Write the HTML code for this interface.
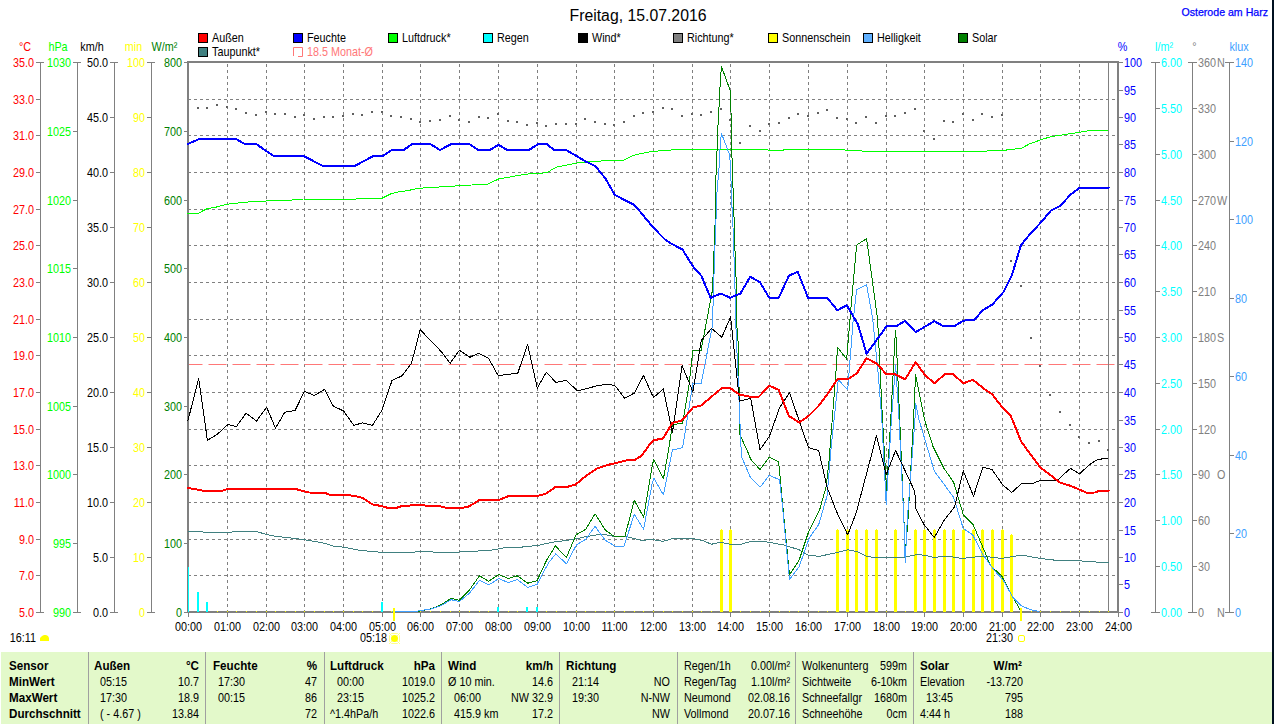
<!DOCTYPE html><html><head><meta charset="utf-8"><title>Wetter</title><style>html,body{margin:0;padding:0;background:#fff;overflow:hidden}svg{display:block;font-family:"Liberation Sans",sans-serif}</style></head><body>
<svg width="1274" height="724" viewBox="0 0 1274 724">
<rect x="0" y="0" width="1274" height="724" fill="#fff"/>
<text transform="translate(638.00,21.00) scale(1.0,1)" font-size="15.8" fill="#000" text-anchor="middle">Freitag, 15.07.2016</text>
<text transform="translate(1268.00,16.00) scale(1.0,1)" font-size="10.6" fill="#0000ff" text-anchor="end" stroke="#0000ff" stroke-width="0.25">Osterode am Harz</text>
<rect x="198.5" y="33.5" width="9" height="9" fill="#ff0000" stroke="#000" stroke-width="1"/>
<text transform="translate(212.00,42.00) scale(0.9,1)" font-size="12" fill="#000">Außen</text>
<rect x="293.5" y="33.5" width="9" height="9" fill="#0000ff" stroke="#000" stroke-width="1"/>
<text transform="translate(307.00,42.00) scale(0.9,1)" font-size="12" fill="#000">Feuchte</text>
<rect x="388.5" y="33.5" width="9" height="9" fill="#00ff00" stroke="#000" stroke-width="1"/>
<text transform="translate(402.00,42.00) scale(0.9,1)" font-size="12" fill="#000">Luftdruck*</text>
<rect x="483.5" y="33.5" width="9" height="9" fill="#00ffff" stroke="#000" stroke-width="1"/>
<text transform="translate(497.00,42.00) scale(0.9,1)" font-size="12" fill="#000">Regen</text>
<rect x="578.5" y="33.5" width="9" height="9" fill="#000000" stroke="#000" stroke-width="1"/>
<text transform="translate(592.00,42.00) scale(0.9,1)" font-size="12" fill="#000">Wind*</text>
<rect x="673.5" y="33.5" width="9" height="9" fill="#808080" stroke="#000" stroke-width="1"/>
<text transform="translate(687.00,42.00) scale(0.9,1)" font-size="12" fill="#000">Richtung*</text>
<rect x="768.5" y="33.5" width="9" height="9" fill="#ffff00" stroke="#000" stroke-width="1"/>
<text transform="translate(782.00,42.00) scale(0.9,1)" font-size="12" fill="#000">Sonnenschein</text>
<rect x="863.5" y="33.5" width="9" height="9" fill="#60b0ff" stroke="#000" stroke-width="1"/>
<text transform="translate(877.00,42.00) scale(0.9,1)" font-size="12" fill="#000">Helligkeit</text>
<rect x="958.5" y="33.5" width="9" height="9" fill="#008000" stroke="#000" stroke-width="1"/>
<text transform="translate(972.00,42.00) scale(0.9,1)" font-size="12" fill="#000">Solar</text>
<rect x="198.5" y="47.5" width="9" height="9" fill="#408080" stroke="#000" stroke-width="1"/>
<text transform="translate(212.00,56.00) scale(0.9,1)" font-size="12" fill="#000">Taupunkt*</text>
<path d="M293.5,56 V47.5 H302.5 V56.5 H298" fill="none" stroke="#ff7878" stroke-width="1"/>
<text transform="translate(307.00,56.00) scale(0.9,1)" font-size="12" fill="#ff7878">18.5 Monat-Ø</text>
<text transform="translate(25.00,51.00) scale(0.9,1)" font-size="12" fill="#ff0000" text-anchor="middle">°C</text>
<text transform="translate(58.00,51.00) scale(0.9,1)" font-size="12" fill="#00ff00" text-anchor="middle">hPa</text>
<text transform="translate(92.00,51.00) scale(0.9,1)" font-size="12" fill="#000" text-anchor="middle">km/h</text>
<text transform="translate(133.50,51.00) scale(0.9,1)" font-size="12" fill="#ffff00" text-anchor="middle">min</text>
<text transform="translate(164.50,51.00) scale(0.9,1)" font-size="12" fill="#008000" text-anchor="middle">W/m²</text>
<text transform="translate(1122.50,51.00) scale(0.9,1)" font-size="12" fill="#0000ff" text-anchor="middle">%</text>
<text transform="translate(1164.00,51.00) scale(0.9,1)" font-size="12" fill="#00ffff" text-anchor="middle">l/m²</text>
<text transform="translate(1194.50,51.00) scale(0.9,1)" font-size="12" fill="#808080" text-anchor="middle">°</text>
<text transform="translate(1239.00,51.00) scale(0.9,1)" font-size="12" fill="#40a0ff" text-anchor="middle">klux</text>
<rect x="40" y="62" width="1" height="551" fill="#808080"/>
<rect x="36" y="62" width="8" height="1" fill="#808080"/>
<text transform="translate(34.00,67.00) scale(0.9,1)" font-size="12" fill="#ff0000" text-anchor="end">35.0</text>
<rect x="36" y="99" width="5" height="1" fill="#808080"/>
<text transform="translate(34.00,104.00) scale(0.9,1)" font-size="12" fill="#ff0000" text-anchor="end">33.0</text>
<rect x="36" y="135" width="5" height="1" fill="#808080"/>
<text transform="translate(34.00,140.00) scale(0.9,1)" font-size="12" fill="#ff0000" text-anchor="end">31.0</text>
<rect x="36" y="172" width="5" height="1" fill="#808080"/>
<text transform="translate(34.00,177.00) scale(0.9,1)" font-size="12" fill="#ff0000" text-anchor="end">29.0</text>
<rect x="36" y="209" width="5" height="1" fill="#808080"/>
<text transform="translate(34.00,214.00) scale(0.9,1)" font-size="12" fill="#ff0000" text-anchor="end">27.0</text>
<rect x="36" y="245" width="5" height="1" fill="#808080"/>
<text transform="translate(34.00,250.00) scale(0.9,1)" font-size="12" fill="#ff0000" text-anchor="end">25.0</text>
<rect x="36" y="282" width="5" height="1" fill="#808080"/>
<text transform="translate(34.00,287.00) scale(0.9,1)" font-size="12" fill="#ff0000" text-anchor="end">23.0</text>
<rect x="36" y="319" width="5" height="1" fill="#808080"/>
<text transform="translate(34.00,324.00) scale(0.9,1)" font-size="12" fill="#ff0000" text-anchor="end">21.0</text>
<rect x="36" y="355" width="5" height="1" fill="#808080"/>
<text transform="translate(34.00,360.00) scale(0.9,1)" font-size="12" fill="#ff0000" text-anchor="end">19.0</text>
<rect x="36" y="392" width="5" height="1" fill="#808080"/>
<text transform="translate(34.00,397.00) scale(0.9,1)" font-size="12" fill="#ff0000" text-anchor="end">17.0</text>
<rect x="36" y="429" width="5" height="1" fill="#808080"/>
<text transform="translate(34.00,434.00) scale(0.9,1)" font-size="12" fill="#ff0000" text-anchor="end">15.0</text>
<rect x="36" y="465" width="5" height="1" fill="#808080"/>
<text transform="translate(34.00,470.00) scale(0.9,1)" font-size="12" fill="#ff0000" text-anchor="end">13.0</text>
<rect x="36" y="502" width="5" height="1" fill="#808080"/>
<text transform="translate(34.00,507.00) scale(0.9,1)" font-size="12" fill="#ff0000" text-anchor="end">11.0</text>
<rect x="36" y="539" width="5" height="1" fill="#808080"/>
<text transform="translate(34.00,544.00) scale(0.9,1)" font-size="12" fill="#ff0000" text-anchor="end">9.0</text>
<rect x="36" y="575" width="5" height="1" fill="#808080"/>
<text transform="translate(34.00,580.00) scale(0.9,1)" font-size="12" fill="#ff0000" text-anchor="end">7.0</text>
<rect x="36" y="612" width="8" height="1" fill="#808080"/>
<text transform="translate(34.00,617.00) scale(0.9,1)" font-size="12" fill="#ff0000" text-anchor="end">5.0</text>
<rect x="77" y="62" width="1" height="551" fill="#808080"/>
<rect x="73" y="62" width="8" height="1" fill="#808080"/>
<text transform="translate(71.00,67.00) scale(0.9,1)" font-size="12" fill="#00ff00" text-anchor="end">1030</text>
<rect x="73" y="131" width="5" height="1" fill="#808080"/>
<text transform="translate(71.00,136.00) scale(0.9,1)" font-size="12" fill="#00ff00" text-anchor="end">1025</text>
<rect x="73" y="200" width="5" height="1" fill="#808080"/>
<text transform="translate(71.00,205.00) scale(0.9,1)" font-size="12" fill="#00ff00" text-anchor="end">1020</text>
<rect x="73" y="268" width="5" height="1" fill="#808080"/>
<text transform="translate(71.00,273.00) scale(0.9,1)" font-size="12" fill="#00ff00" text-anchor="end">1015</text>
<rect x="73" y="337" width="5" height="1" fill="#808080"/>
<text transform="translate(71.00,342.00) scale(0.9,1)" font-size="12" fill="#00ff00" text-anchor="end">1010</text>
<rect x="73" y="406" width="5" height="1" fill="#808080"/>
<text transform="translate(71.00,411.00) scale(0.9,1)" font-size="12" fill="#00ff00" text-anchor="end">1005</text>
<rect x="73" y="474" width="5" height="1" fill="#808080"/>
<text transform="translate(71.00,479.00) scale(0.9,1)" font-size="12" fill="#00ff00" text-anchor="end">1000</text>
<rect x="73" y="543" width="5" height="1" fill="#808080"/>
<text transform="translate(71.00,548.00) scale(0.9,1)" font-size="12" fill="#00ff00" text-anchor="end">995</text>
<rect x="73" y="612" width="8" height="1" fill="#808080"/>
<text transform="translate(71.00,617.00) scale(0.9,1)" font-size="12" fill="#00ff00" text-anchor="end">990</text>
<rect x="114" y="62" width="1" height="551" fill="#808080"/>
<rect x="110" y="62" width="8" height="1" fill="#808080"/>
<text transform="translate(108.00,67.00) scale(0.9,1)" font-size="12" fill="#000" text-anchor="end">50.0</text>
<rect x="110" y="117" width="5" height="1" fill="#808080"/>
<text transform="translate(108.00,122.00) scale(0.9,1)" font-size="12" fill="#000" text-anchor="end">45.0</text>
<rect x="110" y="172" width="5" height="1" fill="#808080"/>
<text transform="translate(108.00,177.00) scale(0.9,1)" font-size="12" fill="#000" text-anchor="end">40.0</text>
<rect x="110" y="227" width="5" height="1" fill="#808080"/>
<text transform="translate(108.00,232.00) scale(0.9,1)" font-size="12" fill="#000" text-anchor="end">35.0</text>
<rect x="110" y="282" width="5" height="1" fill="#808080"/>
<text transform="translate(108.00,287.00) scale(0.9,1)" font-size="12" fill="#000" text-anchor="end">30.0</text>
<rect x="110" y="337" width="5" height="1" fill="#808080"/>
<text transform="translate(108.00,342.00) scale(0.9,1)" font-size="12" fill="#000" text-anchor="end">25.0</text>
<rect x="110" y="392" width="5" height="1" fill="#808080"/>
<text transform="translate(108.00,397.00) scale(0.9,1)" font-size="12" fill="#000" text-anchor="end">20.0</text>
<rect x="110" y="447" width="5" height="1" fill="#808080"/>
<text transform="translate(108.00,452.00) scale(0.9,1)" font-size="12" fill="#000" text-anchor="end">15.0</text>
<rect x="110" y="502" width="5" height="1" fill="#808080"/>
<text transform="translate(108.00,507.00) scale(0.9,1)" font-size="12" fill="#000" text-anchor="end">10.0</text>
<rect x="110" y="557" width="5" height="1" fill="#808080"/>
<text transform="translate(108.00,562.00) scale(0.9,1)" font-size="12" fill="#000" text-anchor="end">5.0</text>
<rect x="110" y="612" width="8" height="1" fill="#808080"/>
<text transform="translate(108.00,617.00) scale(0.9,1)" font-size="12" fill="#000" text-anchor="end">0.0</text>
<rect x="151" y="62" width="1" height="551" fill="#808080"/>
<rect x="147" y="62" width="8" height="1" fill="#808080"/>
<text transform="translate(145.00,67.00) scale(0.9,1)" font-size="12" fill="#ffff00" text-anchor="end">100</text>
<rect x="147" y="117" width="5" height="1" fill="#808080"/>
<text transform="translate(145.00,122.00) scale(0.9,1)" font-size="12" fill="#ffff00" text-anchor="end">90</text>
<rect x="147" y="172" width="5" height="1" fill="#808080"/>
<text transform="translate(145.00,177.00) scale(0.9,1)" font-size="12" fill="#ffff00" text-anchor="end">80</text>
<rect x="147" y="227" width="5" height="1" fill="#808080"/>
<text transform="translate(145.00,232.00) scale(0.9,1)" font-size="12" fill="#ffff00" text-anchor="end">70</text>
<rect x="147" y="282" width="5" height="1" fill="#808080"/>
<text transform="translate(145.00,287.00) scale(0.9,1)" font-size="12" fill="#ffff00" text-anchor="end">60</text>
<rect x="147" y="337" width="5" height="1" fill="#808080"/>
<text transform="translate(145.00,342.00) scale(0.9,1)" font-size="12" fill="#ffff00" text-anchor="end">50</text>
<rect x="147" y="392" width="5" height="1" fill="#808080"/>
<text transform="translate(145.00,397.00) scale(0.9,1)" font-size="12" fill="#ffff00" text-anchor="end">40</text>
<rect x="147" y="447" width="5" height="1" fill="#808080"/>
<text transform="translate(145.00,452.00) scale(0.9,1)" font-size="12" fill="#ffff00" text-anchor="end">30</text>
<rect x="147" y="502" width="5" height="1" fill="#808080"/>
<text transform="translate(145.00,507.00) scale(0.9,1)" font-size="12" fill="#ffff00" text-anchor="end">20</text>
<rect x="147" y="557" width="5" height="1" fill="#808080"/>
<text transform="translate(145.00,562.00) scale(0.9,1)" font-size="12" fill="#ffff00" text-anchor="end">10</text>
<rect x="147" y="612" width="8" height="1" fill="#808080"/>
<text transform="translate(145.00,617.00) scale(0.9,1)" font-size="12" fill="#ffff00" text-anchor="end">0</text>
<rect x="184" y="62" width="5" height="1" fill="#808080"/>
<text transform="translate(182.00,67.00) scale(0.9,1)" font-size="12" fill="#008000" text-anchor="end">800</text>
<rect x="184" y="131" width="5" height="1" fill="#808080"/>
<text transform="translate(182.00,136.00) scale(0.9,1)" font-size="12" fill="#008000" text-anchor="end">700</text>
<rect x="184" y="200" width="5" height="1" fill="#808080"/>
<text transform="translate(182.00,205.00) scale(0.9,1)" font-size="12" fill="#008000" text-anchor="end">600</text>
<rect x="184" y="268" width="5" height="1" fill="#808080"/>
<text transform="translate(182.00,273.00) scale(0.9,1)" font-size="12" fill="#008000" text-anchor="end">500</text>
<rect x="184" y="337" width="5" height="1" fill="#808080"/>
<text transform="translate(182.00,342.00) scale(0.9,1)" font-size="12" fill="#008000" text-anchor="end">400</text>
<rect x="184" y="406" width="5" height="1" fill="#808080"/>
<text transform="translate(182.00,411.00) scale(0.9,1)" font-size="12" fill="#008000" text-anchor="end">300</text>
<rect x="184" y="474" width="5" height="1" fill="#808080"/>
<text transform="translate(182.00,479.00) scale(0.9,1)" font-size="12" fill="#008000" text-anchor="end">200</text>
<rect x="184" y="543" width="5" height="1" fill="#808080"/>
<text transform="translate(182.00,548.00) scale(0.9,1)" font-size="12" fill="#008000" text-anchor="end">100</text>
<rect x="184" y="612" width="5" height="1" fill="#808080"/>
<text transform="translate(182.00,617.00) scale(0.9,1)" font-size="12" fill="#008000" text-anchor="end">0</text>
<line x1="227.5" y1="64" x2="227.5" y2="611" stroke="#808080" stroke-width="1" stroke-dasharray="3 3"/>
<line x1="266.5" y1="64" x2="266.5" y2="611" stroke="#808080" stroke-width="1" stroke-dasharray="3 3"/>
<line x1="304.5" y1="64" x2="304.5" y2="611" stroke="#808080" stroke-width="1" stroke-dasharray="3 3"/>
<line x1="343.5" y1="64" x2="343.5" y2="611" stroke="#808080" stroke-width="1" stroke-dasharray="3 3"/>
<line x1="382.5" y1="64" x2="382.5" y2="611" stroke="#808080" stroke-width="1" stroke-dasharray="3 3"/>
<line x1="420.5" y1="64" x2="420.5" y2="611" stroke="#808080" stroke-width="1" stroke-dasharray="3 3"/>
<line x1="459.5" y1="64" x2="459.5" y2="611" stroke="#808080" stroke-width="1" stroke-dasharray="3 3"/>
<line x1="498.5" y1="64" x2="498.5" y2="611" stroke="#808080" stroke-width="1" stroke-dasharray="3 3"/>
<line x1="537.5" y1="64" x2="537.5" y2="611" stroke="#808080" stroke-width="1" stroke-dasharray="3 3"/>
<line x1="576.5" y1="64" x2="576.5" y2="611" stroke="#808080" stroke-width="1" stroke-dasharray="3 3"/>
<line x1="614.5" y1="64" x2="614.5" y2="611" stroke="#808080" stroke-width="1" stroke-dasharray="3 3"/>
<line x1="653.5" y1="64" x2="653.5" y2="611" stroke="#808080" stroke-width="1" stroke-dasharray="3 3"/>
<line x1="692.5" y1="64" x2="692.5" y2="611" stroke="#808080" stroke-width="1" stroke-dasharray="3 3"/>
<line x1="730.5" y1="64" x2="730.5" y2="611" stroke="#808080" stroke-width="1" stroke-dasharray="3 3"/>
<line x1="769.5" y1="64" x2="769.5" y2="611" stroke="#808080" stroke-width="1" stroke-dasharray="3 3"/>
<line x1="808.5" y1="64" x2="808.5" y2="611" stroke="#808080" stroke-width="1" stroke-dasharray="3 3"/>
<line x1="847.5" y1="64" x2="847.5" y2="611" stroke="#808080" stroke-width="1" stroke-dasharray="3 3"/>
<line x1="886.5" y1="64" x2="886.5" y2="611" stroke="#808080" stroke-width="1" stroke-dasharray="3 3"/>
<line x1="924.5" y1="64" x2="924.5" y2="611" stroke="#808080" stroke-width="1" stroke-dasharray="3 3"/>
<line x1="963.5" y1="64" x2="963.5" y2="611" stroke="#808080" stroke-width="1" stroke-dasharray="3 3"/>
<line x1="1002.5" y1="64" x2="1002.5" y2="611" stroke="#808080" stroke-width="1" stroke-dasharray="3 3"/>
<line x1="1040.5" y1="64" x2="1040.5" y2="611" stroke="#808080" stroke-width="1" stroke-dasharray="3 3"/>
<line x1="1079.5" y1="64" x2="1079.5" y2="611" stroke="#808080" stroke-width="1" stroke-dasharray="3 3"/>
<line x1="189" y1="99.5" x2="1117" y2="99.5" stroke="#808080" stroke-width="1" stroke-dasharray="3 3" stroke-dashoffset="1"/>
<line x1="189" y1="135.5" x2="1117" y2="135.5" stroke="#808080" stroke-width="1" stroke-dasharray="3 3" stroke-dashoffset="1"/>
<line x1="189" y1="172.5" x2="1117" y2="172.5" stroke="#808080" stroke-width="1" stroke-dasharray="3 3" stroke-dashoffset="1"/>
<line x1="189" y1="209.5" x2="1117" y2="209.5" stroke="#808080" stroke-width="1" stroke-dasharray="3 3" stroke-dashoffset="1"/>
<line x1="189" y1="245.5" x2="1117" y2="245.5" stroke="#808080" stroke-width="1" stroke-dasharray="3 3" stroke-dashoffset="1"/>
<line x1="189" y1="282.5" x2="1117" y2="282.5" stroke="#808080" stroke-width="1" stroke-dasharray="3 3" stroke-dashoffset="1"/>
<line x1="189" y1="319.5" x2="1117" y2="319.5" stroke="#808080" stroke-width="1" stroke-dasharray="3 3" stroke-dashoffset="1"/>
<line x1="189" y1="355.5" x2="1117" y2="355.5" stroke="#808080" stroke-width="1" stroke-dasharray="3 3" stroke-dashoffset="1"/>
<line x1="189" y1="392.5" x2="1117" y2="392.5" stroke="#808080" stroke-width="1" stroke-dasharray="3 3" stroke-dashoffset="1"/>
<line x1="189" y1="429.5" x2="1117" y2="429.5" stroke="#808080" stroke-width="1" stroke-dasharray="3 3" stroke-dashoffset="1"/>
<line x1="189" y1="465.5" x2="1117" y2="465.5" stroke="#808080" stroke-width="1" stroke-dasharray="3 3" stroke-dashoffset="1"/>
<line x1="189" y1="502.5" x2="1117" y2="502.5" stroke="#808080" stroke-width="1" stroke-dasharray="3 3" stroke-dashoffset="1"/>
<line x1="189" y1="539.5" x2="1117" y2="539.5" stroke="#808080" stroke-width="1" stroke-dasharray="3 3" stroke-dashoffset="1"/>
<line x1="189" y1="575.5" x2="1117" y2="575.5" stroke="#808080" stroke-width="1" stroke-dasharray="3 3" stroke-dashoffset="1"/>
<line x1="189" y1="364.5" x2="1117" y2="364.5" stroke="#ff7878" stroke-width="1" stroke-dasharray="18 6" stroke-dashoffset="-19.5"/>
<rect x="1108" y="62" width="1" height="551" fill="#808080"/>
<rect x="188" y="613" width="1" height="4" fill="#808080"/>
<text transform="translate(188.50,631.00) scale(0.9,1)" font-size="12" fill="#000" text-anchor="middle">00:00</text>
<rect x="227" y="613" width="1" height="4" fill="#808080"/>
<text transform="translate(227.50,631.00) scale(0.9,1)" font-size="12" fill="#000" text-anchor="middle">01:00</text>
<rect x="266" y="613" width="1" height="4" fill="#808080"/>
<text transform="translate(266.50,631.00) scale(0.9,1)" font-size="12" fill="#000" text-anchor="middle">02:00</text>
<rect x="304" y="613" width="1" height="4" fill="#808080"/>
<text transform="translate(304.50,631.00) scale(0.9,1)" font-size="12" fill="#000" text-anchor="middle">03:00</text>
<rect x="343" y="613" width="1" height="4" fill="#808080"/>
<text transform="translate(343.50,631.00) scale(0.9,1)" font-size="12" fill="#000" text-anchor="middle">04:00</text>
<rect x="382" y="613" width="1" height="4" fill="#808080"/>
<text transform="translate(382.50,631.00) scale(0.9,1)" font-size="12" fill="#000" text-anchor="middle">05:00</text>
<rect x="420" y="613" width="1" height="4" fill="#808080"/>
<text transform="translate(420.50,631.00) scale(0.9,1)" font-size="12" fill="#000" text-anchor="middle">06:00</text>
<rect x="459" y="613" width="1" height="4" fill="#808080"/>
<text transform="translate(459.50,631.00) scale(0.9,1)" font-size="12" fill="#000" text-anchor="middle">07:00</text>
<rect x="498" y="613" width="1" height="4" fill="#808080"/>
<text transform="translate(498.50,631.00) scale(0.9,1)" font-size="12" fill="#000" text-anchor="middle">08:00</text>
<rect x="537" y="613" width="1" height="4" fill="#808080"/>
<text transform="translate(537.50,631.00) scale(0.9,1)" font-size="12" fill="#000" text-anchor="middle">09:00</text>
<rect x="576" y="613" width="1" height="4" fill="#808080"/>
<text transform="translate(576.50,631.00) scale(0.9,1)" font-size="12" fill="#000" text-anchor="middle">10:00</text>
<rect x="614" y="613" width="1" height="4" fill="#808080"/>
<text transform="translate(614.50,631.00) scale(0.9,1)" font-size="12" fill="#000" text-anchor="middle">11:00</text>
<rect x="653" y="613" width="1" height="4" fill="#808080"/>
<text transform="translate(653.50,631.00) scale(0.9,1)" font-size="12" fill="#000" text-anchor="middle">12:00</text>
<rect x="692" y="613" width="1" height="4" fill="#808080"/>
<text transform="translate(692.50,631.00) scale(0.9,1)" font-size="12" fill="#000" text-anchor="middle">13:00</text>
<rect x="730" y="613" width="1" height="4" fill="#808080"/>
<text transform="translate(730.50,631.00) scale(0.9,1)" font-size="12" fill="#000" text-anchor="middle">14:00</text>
<rect x="769" y="613" width="1" height="4" fill="#808080"/>
<text transform="translate(769.50,631.00) scale(0.9,1)" font-size="12" fill="#000" text-anchor="middle">15:00</text>
<rect x="808" y="613" width="1" height="4" fill="#808080"/>
<text transform="translate(808.50,631.00) scale(0.9,1)" font-size="12" fill="#000" text-anchor="middle">16:00</text>
<rect x="847" y="613" width="1" height="4" fill="#808080"/>
<text transform="translate(847.50,631.00) scale(0.9,1)" font-size="12" fill="#000" text-anchor="middle">17:00</text>
<rect x="886" y="613" width="1" height="4" fill="#808080"/>
<text transform="translate(886.50,631.00) scale(0.9,1)" font-size="12" fill="#000" text-anchor="middle">18:00</text>
<rect x="924" y="613" width="1" height="4" fill="#808080"/>
<text transform="translate(924.50,631.00) scale(0.9,1)" font-size="12" fill="#000" text-anchor="middle">19:00</text>
<rect x="963" y="613" width="1" height="4" fill="#808080"/>
<text transform="translate(963.50,631.00) scale(0.9,1)" font-size="12" fill="#000" text-anchor="middle">20:00</text>
<rect x="1002" y="613" width="1" height="4" fill="#808080"/>
<text transform="translate(1002.50,631.00) scale(0.9,1)" font-size="12" fill="#000" text-anchor="middle">21:00</text>
<rect x="1040" y="613" width="1" height="4" fill="#808080"/>
<text transform="translate(1040.50,631.00) scale(0.9,1)" font-size="12" fill="#000" text-anchor="middle">22:00</text>
<rect x="1079" y="613" width="1" height="4" fill="#808080"/>
<text transform="translate(1079.50,631.00) scale(0.9,1)" font-size="12" fill="#000" text-anchor="middle">23:00</text>
<rect x="1118" y="613" width="1" height="4" fill="#808080"/>
<text transform="translate(1118.50,631.00) scale(0.9,1)" font-size="12" fill="#000" text-anchor="middle">24:00</text>
<rect x="188" y="62" width="930" height="550" fill="none" stroke="#808080" stroke-width="2"/>
<rect x="217" y="611" width="1" height="1" fill="#ffff00"/>
<rect x="227" y="611" width="1" height="1" fill="#ffff00"/>
<rect x="236" y="611" width="1" height="1" fill="#ffff00"/>
<rect x="246" y="611" width="1" height="1" fill="#ffff00"/>
<rect x="256" y="611" width="1" height="1" fill="#ffff00"/>
<rect x="266" y="611" width="1" height="1" fill="#ffff00"/>
<rect x="275" y="611" width="1" height="1" fill="#ffff00"/>
<rect x="285" y="611" width="1" height="1" fill="#ffff00"/>
<rect x="295" y="611" width="1" height="1" fill="#ffff00"/>
<rect x="304" y="611" width="1" height="1" fill="#ffff00"/>
<rect x="314" y="611" width="1" height="1" fill="#ffff00"/>
<rect x="324" y="611" width="1" height="1" fill="#ffff00"/>
<rect x="333" y="611" width="1" height="1" fill="#ffff00"/>
<rect x="343" y="611" width="1" height="1" fill="#ffff00"/>
<rect x="353" y="611" width="1" height="1" fill="#ffff00"/>
<rect x="362" y="611" width="1" height="1" fill="#ffff00"/>
<rect x="372" y="611" width="1" height="1" fill="#ffff00"/>
<rect x="391" y="611" width="1" height="1" fill="#ffff00"/>
<rect x="401" y="611" width="1" height="1" fill="#ffff00"/>
<rect x="411" y="611" width="1" height="1" fill="#ffff00"/>
<rect x="420" y="611" width="1" height="1" fill="#ffff00"/>
<rect x="430" y="611" width="1" height="1" fill="#ffff00"/>
<rect x="440" y="611" width="1" height="1" fill="#ffff00"/>
<rect x="450" y="611" width="1" height="1" fill="#ffff00"/>
<rect x="459" y="611" width="1" height="1" fill="#ffff00"/>
<rect x="469" y="611" width="1" height="1" fill="#ffff00"/>
<rect x="479" y="611" width="1" height="1" fill="#ffff00"/>
<rect x="488" y="611" width="1" height="1" fill="#ffff00"/>
<rect x="508" y="611" width="1" height="1" fill="#ffff00"/>
<rect x="517" y="611" width="1" height="1" fill="#ffff00"/>
<rect x="546" y="611" width="1" height="1" fill="#ffff00"/>
<rect x="556" y="611" width="1" height="1" fill="#ffff00"/>
<rect x="566" y="611" width="1" height="1" fill="#ffff00"/>
<rect x="576" y="611" width="1" height="1" fill="#ffff00"/>
<rect x="585" y="611" width="1" height="1" fill="#ffff00"/>
<rect x="595" y="611" width="1" height="1" fill="#ffff00"/>
<rect x="605" y="611" width="1" height="1" fill="#ffff00"/>
<rect x="614" y="611" width="1" height="1" fill="#ffff00"/>
<rect x="624" y="611" width="1" height="1" fill="#ffff00"/>
<rect x="634" y="611" width="1" height="1" fill="#ffff00"/>
<rect x="643" y="611" width="1" height="1" fill="#ffff00"/>
<rect x="653" y="611" width="1" height="1" fill="#ffff00"/>
<rect x="663" y="611" width="1" height="1" fill="#ffff00"/>
<rect x="672" y="611" width="1" height="1" fill="#ffff00"/>
<rect x="682" y="611" width="1" height="1" fill="#ffff00"/>
<rect x="692" y="611" width="1" height="1" fill="#ffff00"/>
<rect x="701" y="611" width="1" height="1" fill="#ffff00"/>
<rect x="711" y="611" width="1" height="1" fill="#ffff00"/>
<rect x="740" y="611" width="1" height="1" fill="#ffff00"/>
<rect x="750" y="611" width="1" height="1" fill="#ffff00"/>
<rect x="760" y="611" width="1" height="1" fill="#ffff00"/>
<rect x="769" y="611" width="1" height="1" fill="#ffff00"/>
<rect x="779" y="611" width="1" height="1" fill="#ffff00"/>
<rect x="789" y="611" width="1" height="1" fill="#ffff00"/>
<rect x="798" y="611" width="1" height="1" fill="#ffff00"/>
<rect x="808" y="611" width="1" height="1" fill="#ffff00"/>
<rect x="818" y="611" width="1" height="1" fill="#ffff00"/>
<rect x="827" y="611" width="1" height="1" fill="#ffff00"/>
<rect x="886" y="611" width="1" height="1" fill="#ffff00"/>
<rect x="905" y="611" width="1" height="1" fill="#ffff00"/>
<rect x="1021" y="611" width="1" height="1" fill="#ffff00"/>
<rect x="1031" y="611" width="1" height="1" fill="#ffff00"/>
<rect x="1040" y="611" width="1" height="1" fill="#ffff00"/>
<rect x="1050" y="611" width="1" height="1" fill="#ffff00"/>
<rect x="1060" y="611" width="1" height="1" fill="#ffff00"/>
<rect x="1070" y="611" width="1" height="1" fill="#ffff00"/>
<rect x="1079" y="611" width="1" height="1" fill="#ffff00"/>
<rect x="1089" y="611" width="1" height="1" fill="#ffff00"/>
<rect x="1099" y="611" width="1" height="1" fill="#ffff00"/>
<rect x="1108" y="611" width="1" height="1" fill="#ffff00"/>
<rect x="720" y="530" width="3" height="82" fill="#ffff00"/>
<rect x="721" y="529" width="1" height="1" fill="#ffff00"/>
<rect x="729" y="530" width="3" height="82" fill="#ffff00"/>
<rect x="730" y="529" width="1" height="1" fill="#ffff00"/>
<rect x="836" y="530" width="3" height="82" fill="#ffff00"/>
<rect x="837" y="529" width="1" height="1" fill="#ffff00"/>
<rect x="846" y="530" width="3" height="82" fill="#ffff00"/>
<rect x="847" y="529" width="1" height="1" fill="#ffff00"/>
<rect x="855" y="530" width="3" height="82" fill="#ffff00"/>
<rect x="856" y="529" width="1" height="1" fill="#ffff00"/>
<rect x="865" y="530" width="3" height="82" fill="#ffff00"/>
<rect x="866" y="529" width="1" height="1" fill="#ffff00"/>
<rect x="875" y="530" width="3" height="82" fill="#ffff00"/>
<rect x="876" y="529" width="1" height="1" fill="#ffff00"/>
<rect x="894" y="530" width="3" height="82" fill="#ffff00"/>
<rect x="895" y="529" width="1" height="1" fill="#ffff00"/>
<rect x="914" y="530" width="3" height="82" fill="#ffff00"/>
<rect x="915" y="529" width="1" height="1" fill="#ffff00"/>
<rect x="923" y="530" width="3" height="82" fill="#ffff00"/>
<rect x="924" y="529" width="1" height="1" fill="#ffff00"/>
<rect x="933" y="530" width="3" height="82" fill="#ffff00"/>
<rect x="934" y="529" width="1" height="1" fill="#ffff00"/>
<rect x="943" y="530" width="3" height="82" fill="#ffff00"/>
<rect x="944" y="529" width="1" height="1" fill="#ffff00"/>
<rect x="952" y="530" width="3" height="82" fill="#ffff00"/>
<rect x="953" y="529" width="1" height="1" fill="#ffff00"/>
<rect x="962" y="530" width="3" height="82" fill="#ffff00"/>
<rect x="963" y="529" width="1" height="1" fill="#ffff00"/>
<rect x="972" y="530" width="3" height="82" fill="#ffff00"/>
<rect x="973" y="529" width="1" height="1" fill="#ffff00"/>
<rect x="981" y="530" width="3" height="82" fill="#ffff00"/>
<rect x="982" y="529" width="1" height="1" fill="#ffff00"/>
<rect x="991" y="530" width="3" height="82" fill="#ffff00"/>
<rect x="992" y="529" width="1" height="1" fill="#ffff00"/>
<rect x="1001" y="530" width="3" height="82" fill="#ffff00"/>
<rect x="1002" y="529" width="1" height="1" fill="#ffff00"/>
<rect x="1010" y="535" width="3" height="77" fill="#ffff00"/>
<rect x="1011" y="534" width="1" height="1" fill="#ffff00"/>
<rect x="188" y="567" width="1" height="45" fill="#00ffff"/>
<rect x="197" y="592" width="2" height="20" fill="#00ffff"/>
<rect x="206" y="602" width="2" height="10" fill="#00ffff"/>
<rect x="381" y="602" width="2" height="10" fill="#00ffff"/>
<rect x="497" y="607" width="2" height="5" fill="#00ffff"/>
<rect x="526" y="607" width="2" height="5" fill="#00ffff"/>
<rect x="536" y="607" width="2" height="5" fill="#00ffff"/>
<polyline points="187.9,532.0 195.3,531.1 202.8,532.0 231.7,532.0 240.1,531.1 257.8,532.0 268.0,534.8 274.6,536.1 296.0,538.6 309.1,540.4 324.0,543.2 333.3,546.0 344.5,547.3 359.4,550.3 379.9,552.2 388.3,552.9 405.1,552.9 420.0,551.6 438.5,552.2 455.3,552.2 490.7,550.3 503.8,547.9 519.6,547.3 537.3,545.5 552.3,542.3 572.8,539.5 585.8,536.7 597.0,534.8 606.3,534.8 615.7,536.7 626.8,536.7 641.8,540.4 652.0,539.5 663.0,541.4 672.4,538.6 692.9,538.6 702.2,540.4 711.5,544.2 720.9,542.3 730.2,544.2 741.4,544.2 750.7,541.4 763.7,541.4 784.3,545.1 799.2,549.8 808.5,555.4 819.7,556.3 836.5,552.6 847.7,549.8 857.0,551.6 866.3,556.3 873.5,557.5 905.2,557.1 917.7,554.4 924.6,555.3 934.3,557.5 945.3,556.2 953.6,557.1 961.9,558.5 970.0,557.5 983.2,556.2 1001.6,558.4 1021.8,555.1 1040.1,558.4 1058.5,560.6 1079.6,560.6 1086.0,561.7 1108.1,562.4" fill="none" stroke="#408080" stroke-width="1" stroke-linejoin="round" stroke-linecap="round" shape-rendering="crispEdges"/>
<polyline points="187.9,213.3 198.1,213.3 207.4,208.6 215.8,207.2 226.1,204.5 232.6,203.4 241.9,202.7 251.3,201.6 270.8,200.8 299.7,199.7 303.5,199.0 355.7,199.0 358.5,198.4 381.8,198.4 391.1,193.7 398.6,191.9 408.8,190.4 418.0,188.3 487.9,184.0 498.6,179.0 526.1,174.1 546.7,172.8 556.0,167.2 576.5,163.1 595.1,161.2 623.1,160.3 634.3,155.1 650.0,151.7 677.0,149.5 764.7,149.5 771.2,150.6 783.3,150.2 784.3,149.5 842.0,149.5 849.5,150.6 861.6,150.6 862.6,151.4 986.6,151.4 987.5,150.4 1006.1,150.4 1007.1,149.5 1021.0,148.6 1029.4,143.9 1042.5,139.2 1051.8,136.4 1059.3,135.5 1066.7,134.2 1079.8,132.3 1085.4,131.2 1094.7,130.3 1107.8,130.3" fill="none" stroke="#00ff00" stroke-width="1" stroke-linejoin="round" stroke-linecap="round" shape-rendering="crispEdges"/>
<rect x="197" y="107" width="2" height="2" fill="#606060"/>
<rect x="206" y="107" width="2" height="2" fill="#606060"/>
<rect x="216" y="104" width="2" height="2" fill="#606060"/>
<rect x="226" y="106" width="2" height="2" fill="#606060"/>
<rect x="235" y="108" width="2" height="2" fill="#606060"/>
<rect x="245" y="112" width="2" height="2" fill="#606060"/>
<rect x="255" y="114" width="2" height="2" fill="#606060"/>
<rect x="265" y="111" width="2" height="2" fill="#606060"/>
<rect x="274" y="113" width="2" height="2" fill="#606060"/>
<rect x="284" y="113" width="2" height="2" fill="#606060"/>
<rect x="294" y="116" width="2" height="2" fill="#606060"/>
<rect x="303" y="114" width="2" height="2" fill="#606060"/>
<rect x="313" y="118" width="2" height="2" fill="#606060"/>
<rect x="323" y="116" width="2" height="2" fill="#606060"/>
<rect x="332" y="116" width="2" height="2" fill="#606060"/>
<rect x="342" y="115" width="2" height="2" fill="#606060"/>
<rect x="352" y="113" width="2" height="2" fill="#606060"/>
<rect x="361" y="114" width="2" height="2" fill="#606060"/>
<rect x="371" y="111" width="2" height="2" fill="#606060"/>
<rect x="381" y="111" width="2" height="2" fill="#606060"/>
<rect x="390" y="115" width="2" height="2" fill="#606060"/>
<rect x="400" y="116" width="2" height="2" fill="#606060"/>
<rect x="410" y="118" width="2" height="2" fill="#606060"/>
<rect x="419" y="121" width="2" height="2" fill="#606060"/>
<rect x="429" y="120" width="2" height="2" fill="#606060"/>
<rect x="439" y="119" width="2" height="2" fill="#606060"/>
<rect x="449" y="115" width="2" height="2" fill="#606060"/>
<rect x="458" y="119" width="2" height="2" fill="#606060"/>
<rect x="468" y="121" width="2" height="2" fill="#606060"/>
<rect x="478" y="116" width="2" height="2" fill="#606060"/>
<rect x="487" y="117" width="2" height="2" fill="#606060"/>
<rect x="497" y="113" width="2" height="2" fill="#606060"/>
<rect x="507" y="120" width="2" height="2" fill="#606060"/>
<rect x="516" y="121" width="2" height="2" fill="#606060"/>
<rect x="526" y="124" width="2" height="2" fill="#606060"/>
<rect x="536" y="122" width="2" height="2" fill="#606060"/>
<rect x="545" y="125" width="2" height="2" fill="#606060"/>
<rect x="555" y="123" width="2" height="2" fill="#606060"/>
<rect x="565" y="123" width="2" height="2" fill="#606060"/>
<rect x="575" y="123" width="2" height="2" fill="#606060"/>
<rect x="584" y="118" width="2" height="2" fill="#606060"/>
<rect x="594" y="121" width="2" height="2" fill="#606060"/>
<rect x="604" y="123" width="2" height="2" fill="#606060"/>
<rect x="613" y="124" width="2" height="2" fill="#606060"/>
<rect x="623" y="121" width="2" height="2" fill="#606060"/>
<rect x="633" y="115" width="2" height="2" fill="#606060"/>
<rect x="642" y="112" width="2" height="2" fill="#606060"/>
<rect x="652" y="111" width="2" height="2" fill="#606060"/>
<rect x="662" y="107" width="2" height="2" fill="#606060"/>
<rect x="671" y="108" width="2" height="2" fill="#606060"/>
<rect x="681" y="115" width="2" height="2" fill="#606060"/>
<rect x="691" y="113" width="2" height="2" fill="#606060"/>
<rect x="700" y="114" width="2" height="2" fill="#606060"/>
<rect x="710" y="111" width="2" height="2" fill="#606060"/>
<rect x="720" y="108" width="2" height="2" fill="#606060"/>
<rect x="729" y="119" width="2" height="2" fill="#606060"/>
<rect x="739" y="142" width="2" height="2" fill="#606060"/>
<rect x="749" y="125" width="2" height="2" fill="#606060"/>
<rect x="759" y="130" width="2" height="2" fill="#606060"/>
<rect x="768" y="123" width="2" height="2" fill="#606060"/>
<rect x="778" y="122" width="2" height="2" fill="#606060"/>
<rect x="788" y="117" width="2" height="2" fill="#606060"/>
<rect x="797" y="113" width="2" height="2" fill="#606060"/>
<rect x="807" y="115" width="2" height="2" fill="#606060"/>
<rect x="817" y="112" width="2" height="2" fill="#606060"/>
<rect x="826" y="109" width="2" height="2" fill="#606060"/>
<rect x="836" y="117" width="2" height="2" fill="#606060"/>
<rect x="846" y="118" width="2" height="2" fill="#606060"/>
<rect x="855" y="122" width="2" height="2" fill="#606060"/>
<rect x="865" y="116" width="2" height="2" fill="#606060"/>
<rect x="875" y="122" width="2" height="2" fill="#606060"/>
<rect x="885" y="115" width="2" height="2" fill="#606060"/>
<rect x="894" y="115" width="2" height="2" fill="#606060"/>
<rect x="904" y="112" width="2" height="2" fill="#606060"/>
<rect x="914" y="108" width="2" height="2" fill="#606060"/>
<rect x="923" y="130" width="2" height="2" fill="#606060"/>
<rect x="933" y="138" width="2" height="2" fill="#606060"/>
<rect x="943" y="120" width="2" height="2" fill="#606060"/>
<rect x="952" y="121" width="2" height="2" fill="#606060"/>
<rect x="962" y="113" width="2" height="2" fill="#606060"/>
<rect x="972" y="119" width="2" height="2" fill="#606060"/>
<rect x="981" y="113" width="2" height="2" fill="#606060"/>
<rect x="991" y="116" width="2" height="2" fill="#606060"/>
<rect x="1001" y="114" width="2" height="2" fill="#606060"/>
<rect x="1010" y="260" width="2" height="2" fill="#606060"/>
<rect x="1020" y="285" width="2" height="2" fill="#606060"/>
<rect x="1030" y="337" width="2" height="2" fill="#606060"/>
<rect x="1039" y="365" width="2" height="2" fill="#606060"/>
<rect x="1049" y="394" width="2" height="2" fill="#606060"/>
<rect x="1059" y="411" width="2" height="2" fill="#606060"/>
<rect x="1069" y="424" width="2" height="2" fill="#606060"/>
<rect x="1078" y="436" width="2" height="2" fill="#606060"/>
<rect x="1088" y="442" width="2" height="2" fill="#606060"/>
<rect x="1098" y="440" width="2" height="2" fill="#606060"/>
<rect x="1107" y="449" width="2" height="2" fill="#606060"/>
<polyline points="392.0,611.5 418.0,611.5 432.0,608.6 441.9,604.3 451.1,598.4 459.3,600.2 469.4,590.0 479.5,575.8 488.7,581.3 498.8,574.5 508.4,578.6 517.2,575.8 527.8,583.2 537.0,580.8 546.6,560.2 555.4,545.9 566.4,557.5 576.1,534.8 585.8,529.2 595.1,513.8 605.4,530.2 614.7,536.7 625.0,536.1 634.3,500.3 643.6,517.1 652.0,467.2 653.7,459.3 663.4,478.9 668.6,450.0 672.4,424.4 682.6,423.5 689.2,383.4 692.8,350.8 701.0,350.8 712.5,290.0 714.3,244.1 715.3,218.0 716.1,170.2 717.1,149.0 718.0,125.7 719.4,100.6 720.4,78.4 721.5,66.4 729.6,89.0 730.2,91.0 731.0,112.2 731.6,143.2 732.5,176.0 733.5,199.2 733.9,212.4 734.8,245.9 736.1,279.5 736.7,324.3 738.6,348.0 739.5,433.7 748.8,454.3 750.7,459.3 760.0,469.6 769.3,457.1 778.7,462.1 782.4,502.2 789.5,574.9 799.2,560.0 808.5,532.0 819.7,509.7 826.2,486.4 829.0,461.2 836.5,364.8 837.4,347.0 846.7,359.2 851.4,302.9 856.6,245.1 866.6,238.6 877.6,319.4 882.5,419.4 886.6,490.4 890.7,420.0 894.9,339.3 895.6,330.4 896.3,342.1 899.7,419.4 903.9,519.4 905.3,553.0 908.0,519.4 913.5,420.0 915.6,374.6 924.6,420.0 932.9,446.2 943.9,468.3 953.6,482.2 963.3,514.6 973.1,524.6 984.7,551.6 990.5,565.7 1001.6,575.8 1012.6,596.9 1020.8,610.7" fill="none" stroke="#008000" stroke-width="1" stroke-linejoin="round" stroke-linecap="round" shape-rendering="crispEdges"/>
<polyline points="392.6,611.5 417.0,611.5 419.0,610.6 430.0,609.4 441.9,605.2 451.1,599.7 459.3,601.5 469.4,593.3 479.5,580.4 488.7,585.0 498.8,578.6 508.4,582.6 517.2,579.5 527.8,587.4 537.0,584.5 548.4,563.0 555.8,553.8 566.4,563.9 576.3,545.1 585.8,539.1 595.1,526.4 605.4,540.4 614.7,546.0 624.0,546.0 634.3,514.3 643.6,529.2 652.0,484.5 653.7,478.0 663.4,494.8 672.4,450.0 682.6,447.7 692.9,383.4 701.2,383.4 712.4,325.7 714.3,264.6 717.1,190.0 719.0,168.3 720.4,141.2 721.5,133.5 729.6,154.8 730.6,168.3 731.6,199.2 733.0,227.3 734.8,279.5 735.8,324.3 739.1,402.0 741.4,456.5 750.7,478.0 760.0,487.3 769.3,475.2 779.6,479.8 782.4,505.9 789.5,579.6 799.2,566.5 809.4,537.6 818.7,524.6 827.1,495.7 830.9,450.0 838.3,379.7 847.7,389.9 853.2,320.0 856.6,289.8 866.6,284.6 872.8,319.4 878.3,375.2 881.8,419.4 886.2,504.3 891.4,420.0 895.6,364.2 899.0,419.4 903.9,519.4 905.2,562.7 907.3,519.4 914.9,420.0 915.7,403.0 919.1,420.0 934.3,471.1 953.6,497.3 963.2,528.3 972.6,534.8 982.8,554.4 994.2,570.3 1003.4,580.4 1012.6,596.9 1021.8,606.1 1031.0,609.8 1038.3,611.3" fill="none" stroke="#40a0ff" stroke-width="1" stroke-linejoin="round" stroke-linecap="round" shape-rendering="crispEdges"/>
<polyline points="187.9,420.7 198.7,378.7 207.4,440.3 216.8,434.7 228.0,424.4 236.3,426.7 246.0,413.2 256.5,421.1 266.6,407.3 275.5,428.1 284.8,412.3 295.1,410.4 304.4,391.4 314.3,395.5 324.5,389.4 333.3,406.1 343.6,411.0 353.8,425.4 362.2,422.9 372.5,425.4 381.8,410.4 392.0,380.6 402.3,375.6 411.6,362.9 420.2,329.7 442.2,352.6 450.1,363.3 459.4,350.2 469.8,357.3 478.6,353.2 488.5,358.2 498.2,375.6 517.8,373.1 527.6,344.2 537.3,388.1 546.3,372.2 556.0,382.5 566.2,380.2 577.4,390.9 598.0,385.6 606.3,384.3 614.7,385.3 624.6,398.3 634.3,393.1 643.6,375.4 652.0,394.6 653.7,397.4 663.4,389.0 672.4,432.8 682.1,365.7 692.9,391.8 701.3,340.5 711.5,328.4 721.8,337.2 730.6,317.0 739.5,401.1 750.7,398.3 760.0,449.6 769.3,436.5 779.6,407.6 789.5,392.7 808.5,447.7 818.7,450.5 827.1,487.3 836.5,511.5 847.7,534.8 856.0,513.4 872.8,450.0 876.5,435.5 886.2,474.6 895.6,450.4 914.9,491.8 915.6,508.4 924.1,524.6 934.3,537.6 943.7,520.9 954.5,506.9 963.3,470.9 973.5,496.2 982.8,467.2 992.1,469.6 1002.4,484.5 1011.7,492.5 1022.0,483.2 1033.2,483.2 1040.6,480.2 1057.4,480.2 1070.5,468.3 1079.4,473.9 1091.0,463.4 1098.4,459.3 1107.8,458.4" fill="none" stroke="#000000" stroke-width="1" stroke-linejoin="round" stroke-linecap="round" shape-rendering="crispEdges"/>
<polyline points="187.9,488.2 193.5,488.8 202.8,490.6 222.4,490.6 228.0,488.8 295.1,488.8 299.7,490.1 309.1,492.5 324.9,492.9 329.6,494.8 343.6,495.1 353.8,495.7 363.1,498.1 372.5,504.4 382.7,506.3 387.4,507.8 396.7,507.8 402.3,505.9 420.0,505.0 425.5,505.6 438.5,505.9 446.0,507.8 462.8,507.8 469.3,506.3 479.5,500.0 499.1,500.0 509.4,495.7 538.3,495.7 545.7,493.8 555.0,487.3 567.2,486.9 575.6,484.5 586.8,475.2 597.0,468.6 606.3,465.3 619.4,462.1 626.8,460.3 634.3,460.3 641.8,455.6 650.0,444.0 653.7,440.3 663.0,438.4 672.4,422.9 681.7,420.7 692.9,407.6 701.3,405.4 710.6,397.4 721.8,388.1 730.2,388.1 739.5,394.6 748.8,396.5 759.1,396.5 769.3,385.6 778.7,389.9 788.9,416.0 799.2,422.6 808.5,416.0 818.7,405.8 827.1,394.6 837.4,379.3 847.7,379.3 857.0,373.1 866.5,358.1 877.6,364.2 885.9,373.9 894.2,373.9 905.2,379.4 915.6,362.1 924.6,374.6 934.3,383.3 945.3,373.9 952.9,373.9 963.3,383.3 970.0,380.8 973.1,380.0 985.6,389.9 992.1,394.2 1002.4,407.6 1010.8,416.0 1021.0,441.2 1030.4,454.3 1040.6,467.7 1060.2,482.6 1070.5,485.8 1087.2,492.9 1094.7,492.5 1100.3,490.6 1108.7,490.6" fill="none" stroke="#ff0000" stroke-width="2" stroke-linejoin="round" stroke-linecap="round" shape-rendering="crispEdges"/>
<polyline points="188.0,143.9 199.0,139.2 236.3,139.2 244.7,143.9 256.0,143.9 273.6,156.0 303.5,156.0 323.0,166.0 354.7,166.0 373.4,156.0 382.7,156.0 391.0,150.4 403.0,150.4 412.5,143.9 430.1,143.9 440.0,150.0 451.6,143.9 469.3,143.9 478.0,150.0 489.8,150.0 498.6,144.8 507.1,150.0 529.0,150.0 538.3,143.9 546.7,143.9 554.1,150.0 566.2,150.0 576.5,156.0 585.8,161.6 595.1,165.9 605.4,178.4 614.7,194.7 625.0,200.3 634.3,204.9 640.8,212.4 650.0,223.6 659.3,233.8 664.9,239.4 670.5,243.1 682.6,249.7 692.9,266.4 701.3,275.8 710.6,297.8 720.9,293.5 730.2,297.8 740.4,293.5 750.3,276.7 760.0,282.3 769.3,297.8 778.7,297.8 788.9,275.8 797.7,271.7 808.1,297.8 827.1,297.8 837.4,310.3 846.7,305.2 857.9,324.3 866.6,353.8 886.6,326.2 896.3,326.2 905.2,320.7 915.6,332.2 934.3,321.1 942.5,325.8 955.0,325.8 963.3,320.7 974.4,319.6 982.8,310.3 992.1,304.7 1003.3,292.2 1011.7,275.8 1021.0,245.0 1029.4,234.8 1041.6,221.7 1050.9,210.5 1060.2,205.8 1070.5,194.7 1079.8,187.7 1108.7,187.7" fill="none" stroke="#0000ff" stroke-width="2" stroke-linejoin="round" stroke-linecap="round" shape-rendering="crispEdges"/>
<rect x="1119" y="62" width="4" height="1" fill="#808080"/>
<text transform="translate(1124.00,67.00) scale(0.9,1)" font-size="12" fill="#0000ff">100</text>
<rect x="1119" y="90" width="4" height="1" fill="#808080"/>
<text transform="translate(1124.00,95.00) scale(0.9,1)" font-size="12" fill="#0000ff">95</text>
<rect x="1119" y="117" width="4" height="1" fill="#808080"/>
<text transform="translate(1124.00,122.00) scale(0.9,1)" font-size="12" fill="#0000ff">90</text>
<rect x="1119" y="144" width="4" height="1" fill="#808080"/>
<text transform="translate(1124.00,149.00) scale(0.9,1)" font-size="12" fill="#0000ff">85</text>
<rect x="1119" y="172" width="4" height="1" fill="#808080"/>
<text transform="translate(1124.00,177.00) scale(0.9,1)" font-size="12" fill="#0000ff">80</text>
<rect x="1119" y="200" width="4" height="1" fill="#808080"/>
<text transform="translate(1124.00,205.00) scale(0.9,1)" font-size="12" fill="#0000ff">75</text>
<rect x="1119" y="227" width="4" height="1" fill="#808080"/>
<text transform="translate(1124.00,232.00) scale(0.9,1)" font-size="12" fill="#0000ff">70</text>
<rect x="1119" y="254" width="4" height="1" fill="#808080"/>
<text transform="translate(1124.00,259.00) scale(0.9,1)" font-size="12" fill="#0000ff">65</text>
<rect x="1119" y="282" width="4" height="1" fill="#808080"/>
<text transform="translate(1124.00,287.00) scale(0.9,1)" font-size="12" fill="#0000ff">60</text>
<rect x="1119" y="310" width="4" height="1" fill="#808080"/>
<text transform="translate(1124.00,315.00) scale(0.9,1)" font-size="12" fill="#0000ff">55</text>
<rect x="1119" y="337" width="4" height="1" fill="#808080"/>
<text transform="translate(1124.00,342.00) scale(0.9,1)" font-size="12" fill="#0000ff">50</text>
<rect x="1119" y="364" width="4" height="1" fill="#808080"/>
<text transform="translate(1124.00,369.00) scale(0.9,1)" font-size="12" fill="#0000ff">45</text>
<rect x="1119" y="392" width="4" height="1" fill="#808080"/>
<text transform="translate(1124.00,397.00) scale(0.9,1)" font-size="12" fill="#0000ff">40</text>
<rect x="1119" y="420" width="4" height="1" fill="#808080"/>
<text transform="translate(1124.00,425.00) scale(0.9,1)" font-size="12" fill="#0000ff">35</text>
<rect x="1119" y="447" width="4" height="1" fill="#808080"/>
<text transform="translate(1124.00,452.00) scale(0.9,1)" font-size="12" fill="#0000ff">30</text>
<rect x="1119" y="474" width="4" height="1" fill="#808080"/>
<text transform="translate(1124.00,479.00) scale(0.9,1)" font-size="12" fill="#0000ff">25</text>
<rect x="1119" y="502" width="4" height="1" fill="#808080"/>
<text transform="translate(1124.00,507.00) scale(0.9,1)" font-size="12" fill="#0000ff">20</text>
<rect x="1119" y="530" width="4" height="1" fill="#808080"/>
<text transform="translate(1124.00,535.00) scale(0.9,1)" font-size="12" fill="#0000ff">15</text>
<rect x="1119" y="557" width="4" height="1" fill="#808080"/>
<text transform="translate(1124.00,562.00) scale(0.9,1)" font-size="12" fill="#0000ff">10</text>
<rect x="1119" y="584" width="4" height="1" fill="#808080"/>
<text transform="translate(1124.00,589.00) scale(0.9,1)" font-size="12" fill="#0000ff">5</text>
<rect x="1119" y="612" width="4" height="1" fill="#808080"/>
<text transform="translate(1124.00,617.00) scale(0.9,1)" font-size="12" fill="#0000ff">0</text>
<rect x="1155" y="62" width="1" height="551" fill="#808080"/>
<rect x="1151" y="62" width="9" height="1" fill="#808080"/>
<text transform="translate(1161.00,67.00) scale(0.9,1)" font-size="12" fill="#00ffff">6.00</text>
<rect x="1155" y="108" width="5" height="1" fill="#808080"/>
<text transform="translate(1161.00,113.00) scale(0.9,1)" font-size="12" fill="#00ffff">5.50</text>
<rect x="1155" y="154" width="5" height="1" fill="#808080"/>
<text transform="translate(1161.00,159.00) scale(0.9,1)" font-size="12" fill="#00ffff">5.00</text>
<rect x="1155" y="200" width="5" height="1" fill="#808080"/>
<text transform="translate(1161.00,205.00) scale(0.9,1)" font-size="12" fill="#00ffff">4.50</text>
<rect x="1155" y="245" width="5" height="1" fill="#808080"/>
<text transform="translate(1161.00,250.00) scale(0.9,1)" font-size="12" fill="#00ffff">4.00</text>
<rect x="1155" y="291" width="5" height="1" fill="#808080"/>
<text transform="translate(1161.00,296.00) scale(0.9,1)" font-size="12" fill="#00ffff">3.50</text>
<rect x="1155" y="337" width="5" height="1" fill="#808080"/>
<text transform="translate(1161.00,342.00) scale(0.9,1)" font-size="12" fill="#00ffff">3.00</text>
<rect x="1155" y="383" width="5" height="1" fill="#808080"/>
<text transform="translate(1161.00,388.00) scale(0.9,1)" font-size="12" fill="#00ffff">2.50</text>
<rect x="1155" y="429" width="5" height="1" fill="#808080"/>
<text transform="translate(1161.00,434.00) scale(0.9,1)" font-size="12" fill="#00ffff">2.00</text>
<rect x="1155" y="474" width="5" height="1" fill="#808080"/>
<text transform="translate(1161.00,479.00) scale(0.9,1)" font-size="12" fill="#00ffff">1.50</text>
<rect x="1155" y="520" width="5" height="1" fill="#808080"/>
<text transform="translate(1161.00,525.00) scale(0.9,1)" font-size="12" fill="#00ffff">1.00</text>
<rect x="1155" y="566" width="5" height="1" fill="#808080"/>
<text transform="translate(1161.00,571.00) scale(0.9,1)" font-size="12" fill="#00ffff">0.50</text>
<rect x="1151" y="612" width="9" height="1" fill="#808080"/>
<text transform="translate(1161.00,617.00) scale(0.9,1)" font-size="12" fill="#00ffff">0.00</text>
<rect x="1192" y="62" width="1" height="551" fill="#808080"/>
<rect x="1188" y="62" width="9" height="1" fill="#808080"/>
<text transform="translate(1198.00,67.00) scale(0.9,1)" font-size="12" fill="#808080">360</text>
<rect x="1192" y="108" width="5" height="1" fill="#808080"/>
<text transform="translate(1198.00,113.00) scale(0.9,1)" font-size="12" fill="#808080">330</text>
<rect x="1192" y="154" width="5" height="1" fill="#808080"/>
<text transform="translate(1198.00,159.00) scale(0.9,1)" font-size="12" fill="#808080">300</text>
<rect x="1192" y="200" width="5" height="1" fill="#808080"/>
<text transform="translate(1198.00,205.00) scale(0.9,1)" font-size="12" fill="#808080">270</text>
<rect x="1192" y="245" width="5" height="1" fill="#808080"/>
<text transform="translate(1198.00,250.00) scale(0.9,1)" font-size="12" fill="#808080">240</text>
<rect x="1192" y="291" width="5" height="1" fill="#808080"/>
<text transform="translate(1198.00,296.00) scale(0.9,1)" font-size="12" fill="#808080">210</text>
<rect x="1192" y="337" width="5" height="1" fill="#808080"/>
<text transform="translate(1198.00,342.00) scale(0.9,1)" font-size="12" fill="#808080">180</text>
<rect x="1192" y="383" width="5" height="1" fill="#808080"/>
<text transform="translate(1198.00,388.00) scale(0.9,1)" font-size="12" fill="#808080">150</text>
<rect x="1192" y="429" width="5" height="1" fill="#808080"/>
<text transform="translate(1198.00,434.00) scale(0.9,1)" font-size="12" fill="#808080">120</text>
<rect x="1192" y="474" width="5" height="1" fill="#808080"/>
<text transform="translate(1198.00,479.00) scale(0.9,1)" font-size="12" fill="#808080">90</text>
<rect x="1192" y="520" width="5" height="1" fill="#808080"/>
<text transform="translate(1198.00,525.00) scale(0.9,1)" font-size="12" fill="#808080">60</text>
<rect x="1192" y="566" width="5" height="1" fill="#808080"/>
<text transform="translate(1198.00,571.00) scale(0.9,1)" font-size="12" fill="#808080">30</text>
<rect x="1188" y="612" width="9" height="1" fill="#808080"/>
<text transform="translate(1198.00,617.00) scale(0.9,1)" font-size="12" fill="#808080">0</text>
<text transform="translate(1217.00,67.00) scale(0.9,1)" font-size="12" fill="#808080">N</text>
<text transform="translate(1217.00,205.00) scale(0.9,1)" font-size="12" fill="#808080">W</text>
<text transform="translate(1217.00,342.00) scale(0.9,1)" font-size="12" fill="#808080">S</text>
<text transform="translate(1217.00,479.00) scale(0.9,1)" font-size="12" fill="#808080">O</text>
<text transform="translate(1217.00,617.00) scale(0.9,1)" font-size="12" fill="#808080">N</text>
<rect x="1229" y="62" width="1" height="551" fill="#808080"/>
<rect x="1225" y="62" width="9" height="1" fill="#808080"/>
<text transform="translate(1235.00,67.00) scale(0.9,1)" font-size="12" fill="#40a0ff">140</text>
<rect x="1229" y="141" width="5" height="1" fill="#808080"/>
<text transform="translate(1235.00,146.00) scale(0.9,1)" font-size="12" fill="#40a0ff">120</text>
<rect x="1229" y="219" width="5" height="1" fill="#808080"/>
<text transform="translate(1235.00,224.00) scale(0.9,1)" font-size="12" fill="#40a0ff">100</text>
<rect x="1229" y="298" width="5" height="1" fill="#808080"/>
<text transform="translate(1235.00,303.00) scale(0.9,1)" font-size="12" fill="#40a0ff">80</text>
<rect x="1229" y="376" width="5" height="1" fill="#808080"/>
<text transform="translate(1235.00,381.00) scale(0.9,1)" font-size="12" fill="#40a0ff">60</text>
<rect x="1229" y="455" width="5" height="1" fill="#808080"/>
<text transform="translate(1235.00,460.00) scale(0.9,1)" font-size="12" fill="#40a0ff">40</text>
<rect x="1229" y="533" width="5" height="1" fill="#808080"/>
<text transform="translate(1235.00,538.00) scale(0.9,1)" font-size="12" fill="#40a0ff">20</text>
<rect x="1225" y="612" width="9" height="1" fill="#808080"/>
<text transform="translate(1235.00,617.00) scale(0.9,1)" font-size="12" fill="#40a0ff">0</text>
<rect x="393" y="608" width="2" height="13" fill="#ffff00"/>
<text transform="translate(387.00,642.00) scale(0.9,1)" font-size="12" fill="#000" text-anchor="end">05:18</text>
<circle cx="394.5" cy="638.5" r="3.5" fill="#ffff00"/>
<g stroke="#ffff00" stroke-width="1" fill="none" opacity="0.45"><path d="M391.5,633.5 H397.5 L399.5,635.5 V641.5 L397.5,643.5 H391.5 L389.5,641.5 V635.5 Z"/><line x1="389" y1="633" x2="400" y2="644"/><line x1="400" y1="633" x2="389" y2="644"/></g>
<rect x="1020" y="608" width="2" height="13" fill="#ffff00"/>
<text transform="translate(1013.00,642.00) scale(0.9,1)" font-size="12" fill="#000" text-anchor="end">21:30</text>
<rect x="1018.5" y="635.5" width="6" height="6" rx="1.5" fill="none" stroke="#ffff00" stroke-width="1"/>
<text transform="translate(36.00,642.00) scale(0.9,1)" font-size="12" fill="#000" text-anchor="end">16:11</text>
<path d="M40,641 L40,638 L42,636 L44,635 L46,635 L48,636 L49,638 L49,641 Z" fill="#ffff00"/>
<rect x="1" y="652" width="1271" height="72" fill="#e3f9ca"/>
<rect x="88" y="652" width="1" height="72" fill="#a0a0a0"/>
<rect x="205" y="652" width="1" height="72" fill="#a0a0a0"/>
<rect x="324" y="652" width="1" height="72" fill="#a0a0a0"/>
<rect x="441" y="652" width="1" height="72" fill="#a0a0a0"/>
<rect x="559" y="652" width="1" height="72" fill="#a0a0a0"/>
<rect x="677" y="652" width="1" height="72" fill="#a0a0a0"/>
<rect x="795" y="652" width="1" height="72" fill="#a0a0a0"/>
<rect x="913" y="652" width="1" height="72" fill="#a0a0a0"/>
<rect x="1272" y="0" width="2" height="724" fill="#001020"/>
<text transform="translate(9.00,670.00) scale(0.97,1)" font-size="12" fill="#000" font-weight="bold">Sensor</text>
<text transform="translate(9.00,686.00) scale(0.97,1)" font-size="12" fill="#000" font-weight="bold">MinWert</text>
<text transform="translate(9.00,702.00) scale(0.97,1)" font-size="12" fill="#000" font-weight="bold">MaxWert</text>
<text transform="translate(9.00,718.00) scale(0.97,1)" font-size="12" fill="#000" font-weight="bold">Durchschnitt</text>
<text transform="translate(94.00,670.00) scale(0.97,1)" font-size="12" fill="#000" font-weight="bold">Außen</text>
<text transform="translate(199.00,670.00) scale(0.97,1)" font-size="12" fill="#000" text-anchor="end" font-weight="bold">°C</text>
<text transform="translate(100.00,686.00) scale(0.9,1)" font-size="12" fill="#000">05:15</text>
<text transform="translate(199.00,686.00) scale(0.9,1)" font-size="12" fill="#000" text-anchor="end">10.7</text>
<text transform="translate(100.00,702.00) scale(0.9,1)" font-size="12" fill="#000">17:30</text>
<text transform="translate(199.00,702.00) scale(0.9,1)" font-size="12" fill="#000" text-anchor="end">18.9</text>
<text transform="translate(100.00,718.00) scale(0.9,1)" font-size="12" fill="#000">( - 4.67 )</text>
<text transform="translate(199.00,718.00) scale(0.9,1)" font-size="12" fill="#000" text-anchor="end">13.84</text>
<text transform="translate(213.00,670.00) scale(0.97,1)" font-size="12" fill="#000" font-weight="bold">Feuchte</text>
<text transform="translate(317.00,670.00) scale(0.97,1)" font-size="12" fill="#000" text-anchor="end" font-weight="bold">%</text>
<text transform="translate(218.00,686.00) scale(0.9,1)" font-size="12" fill="#000">17:30</text>
<text transform="translate(317.00,686.00) scale(0.9,1)" font-size="12" fill="#000" text-anchor="end">47</text>
<text transform="translate(218.00,702.00) scale(0.9,1)" font-size="12" fill="#000">00:15</text>
<text transform="translate(317.00,702.00) scale(0.9,1)" font-size="12" fill="#000" text-anchor="end">86</text>
<text transform="translate(317.00,718.00) scale(0.9,1)" font-size="12" fill="#000" text-anchor="end">72</text>
<text transform="translate(330.00,670.00) scale(0.97,1)" font-size="12" fill="#000" font-weight="bold">Luftdruck</text>
<text transform="translate(435.00,670.00) scale(0.97,1)" font-size="12" fill="#000" text-anchor="end" font-weight="bold">hPa</text>
<text transform="translate(337.00,686.00) scale(0.9,1)" font-size="12" fill="#000">00:00</text>
<text transform="translate(435.00,686.00) scale(0.9,1)" font-size="12" fill="#000" text-anchor="end">1019.0</text>
<text transform="translate(337.00,702.00) scale(0.9,1)" font-size="12" fill="#000">23:15</text>
<text transform="translate(435.00,702.00) scale(0.9,1)" font-size="12" fill="#000" text-anchor="end">1025.2</text>
<text transform="translate(330.00,718.00) scale(0.9,1)" font-size="12" fill="#000">^1.4hPa/h</text>
<text transform="translate(435.00,718.00) scale(0.9,1)" font-size="12" fill="#000" text-anchor="end">1022.6</text>
<text transform="translate(448.00,670.00) scale(0.97,1)" font-size="12" fill="#000" font-weight="bold">Wind</text>
<text transform="translate(553.00,670.00) scale(0.97,1)" font-size="12" fill="#000" text-anchor="end" font-weight="bold">km/h</text>
<text transform="translate(448.00,686.00) scale(0.9,1)" font-size="12" fill="#000">Ø 10 min.</text>
<text transform="translate(553.00,686.00) scale(0.9,1)" font-size="12" fill="#000" text-anchor="end">14.6</text>
<text transform="translate(454.00,702.00) scale(0.9,1)" font-size="12" fill="#000">06:00</text>
<text transform="translate(553.00,702.00) scale(0.9,1)" font-size="12" fill="#000" text-anchor="end">NW 32.9</text>
<text transform="translate(454.00,718.00) scale(0.9,1)" font-size="12" fill="#000">415.9 km</text>
<text transform="translate(553.00,718.00) scale(0.9,1)" font-size="12" fill="#000" text-anchor="end">17.2</text>
<text transform="translate(566.00,670.00) scale(0.97,1)" font-size="12" fill="#000" font-weight="bold">Richtung</text>
<text transform="translate(572.00,686.00) scale(0.9,1)" font-size="12" fill="#000">21:14</text>
<text transform="translate(670.00,686.00) scale(0.9,1)" font-size="12" fill="#000" text-anchor="end">NO</text>
<text transform="translate(572.00,702.00) scale(0.9,1)" font-size="12" fill="#000">19:30</text>
<text transform="translate(670.00,702.00) scale(0.9,1)" font-size="12" fill="#000" text-anchor="end">N-NW</text>
<text transform="translate(670.00,718.00) scale(0.9,1)" font-size="12" fill="#000" text-anchor="end">NW</text>
<text transform="translate(684.00,670.00) scale(0.9,1)" font-size="12" fill="#000">Regen/1h</text>
<text transform="translate(790.00,670.00) scale(0.9,1)" font-size="12" fill="#000" text-anchor="end">0.00l/m²</text>
<text transform="translate(684.00,686.00) scale(0.9,1)" font-size="12" fill="#000">Regen/Tag</text>
<text transform="translate(790.00,686.00) scale(0.9,1)" font-size="12" fill="#000" text-anchor="end">1.10l/m²</text>
<text transform="translate(684.00,702.00) scale(0.9,1)" font-size="12" fill="#000">Neumond</text>
<text transform="translate(790.00,702.00) scale(0.9,1)" font-size="12" fill="#000" text-anchor="end">02.08.16</text>
<text transform="translate(684.00,718.00) scale(0.9,1)" font-size="12" fill="#000">Vollmond</text>
<text transform="translate(790.00,718.00) scale(0.9,1)" font-size="12" fill="#000" text-anchor="end">20.07.16</text>
<text transform="translate(802.00,670.00) scale(0.9,1)" font-size="12" fill="#000">Wolkenunterg</text>
<text transform="translate(907.00,670.00) scale(0.9,1)" font-size="12" fill="#000" text-anchor="end">599m</text>
<text transform="translate(802.00,686.00) scale(0.9,1)" font-size="12" fill="#000">Sichtweite</text>
<text transform="translate(907.00,686.00) scale(0.9,1)" font-size="12" fill="#000" text-anchor="end">6-10km</text>
<text transform="translate(802.00,702.00) scale(0.9,1)" font-size="12" fill="#000">Schneefallgr</text>
<text transform="translate(907.00,702.00) scale(0.9,1)" font-size="12" fill="#000" text-anchor="end">1680m</text>
<text transform="translate(802.00,718.00) scale(0.9,1)" font-size="12" fill="#000">Schneehöhe</text>
<text transform="translate(907.00,718.00) scale(0.9,1)" font-size="12" fill="#000" text-anchor="end">0cm</text>
<text transform="translate(920.00,670.00) scale(0.97,1)" font-size="12" fill="#000" font-weight="bold">Solar</text>
<text transform="translate(1022.00,670.00) scale(0.97,1)" font-size="12" fill="#000" text-anchor="end" font-weight="bold">W/m²</text>
<text transform="translate(920.00,686.00) scale(0.9,1)" font-size="12" fill="#000">Elevation</text>
<text transform="translate(1023.00,686.00) scale(0.9,1)" font-size="12" fill="#000" text-anchor="end">-13.720</text>
<text transform="translate(926.00,702.00) scale(0.9,1)" font-size="12" fill="#000">13:45</text>
<text transform="translate(1023.00,702.00) scale(0.9,1)" font-size="12" fill="#000" text-anchor="end">795</text>
<text transform="translate(920.00,718.00) scale(0.9,1)" font-size="12" fill="#000">4:44 h</text>
<text transform="translate(1023.00,718.00) scale(0.9,1)" font-size="12" fill="#000" text-anchor="end">188</text>
</svg></body></html>
